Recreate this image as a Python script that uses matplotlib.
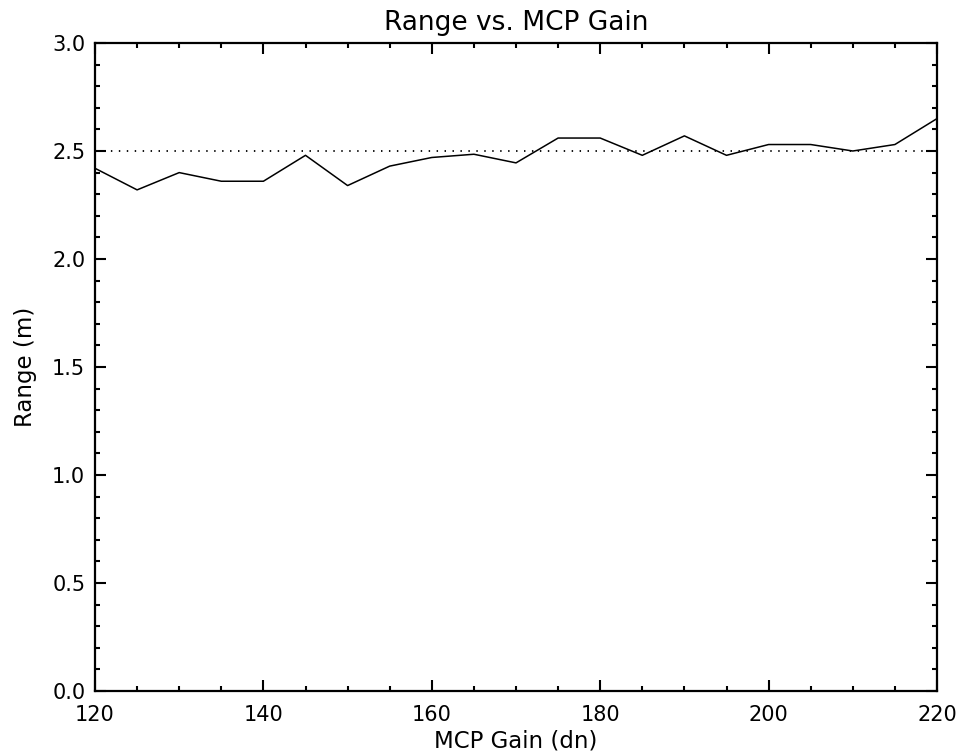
import numpy as np
import matplotlib
matplotlib.use("Agg")
import matplotlib.pyplot as plt
from matplotlib.ticker import MultipleLocator, FormatStrFormatter

# MCP gain settings (dn) and measured range (m)
gain = [120, 125, 130, 135, 140, 145, 150, 155, 160, 165, 170,
        175, 180, 185, 190, 195, 200, 205, 210, 215, 220]
range_m = [2.42, 2.32, 2.40, 2.36, 2.36, 2.48, 2.34, 2.43, 2.47, 2.485, 2.445,
           2.56, 2.56, 2.48, 2.57, 2.48, 2.53, 2.53, 2.50, 2.53, 2.65]
true_range = 2.5

plt.rcParams['font.family'] = ['DejaVu Sans']

fig = plt.figure(figsize=(9.61, 7.53), dpi=100)
ax = fig.add_axes([95 / 961, 62 / 753, 842 / 961, 648 / 753])

ax.plot(gain, range_m, color='black', linewidth=1.1)
ax.plot([gain[0], gain[-1]], [true_range, true_range], color='black',
        linewidth=1.3, linestyle=(0, (0.8, 3.6)))

ax.set_xlim(120, 220)
ax.set_ylim(0.0, 3.0)
ax.xaxis.set_major_locator(MultipleLocator(20))
ax.xaxis.set_minor_locator(MultipleLocator(5))
ax.yaxis.set_major_locator(MultipleLocator(0.5))
ax.yaxis.set_minor_locator(MultipleLocator(0.1))
ax.yaxis.set_major_formatter(FormatStrFormatter('%.1f'))

ax.tick_params(which='both', direction='in', top=True, right=True,
               width=1.5, colors='black', labelsize=15)
ax.tick_params(which='major', length=8)
ax.tick_params(which='minor', length=3.5)
ax.tick_params(axis='x', which='major', pad=10)
ax.tick_params(axis='y', which='major', pad=7)
for s in ax.spines.values():
    s.set_linewidth(1.6)

ax.set_title('Range vs. MCP Gain', fontsize=19, pad=9)
ax.set_xlabel('MCP Gain (dn)', fontsize=16.5, labelpad=3)
ax.set_ylabel('Range (m)', fontsize=16.5, labelpad=11)

fig.savefig('out.png', dpi=100, facecolor='white')
